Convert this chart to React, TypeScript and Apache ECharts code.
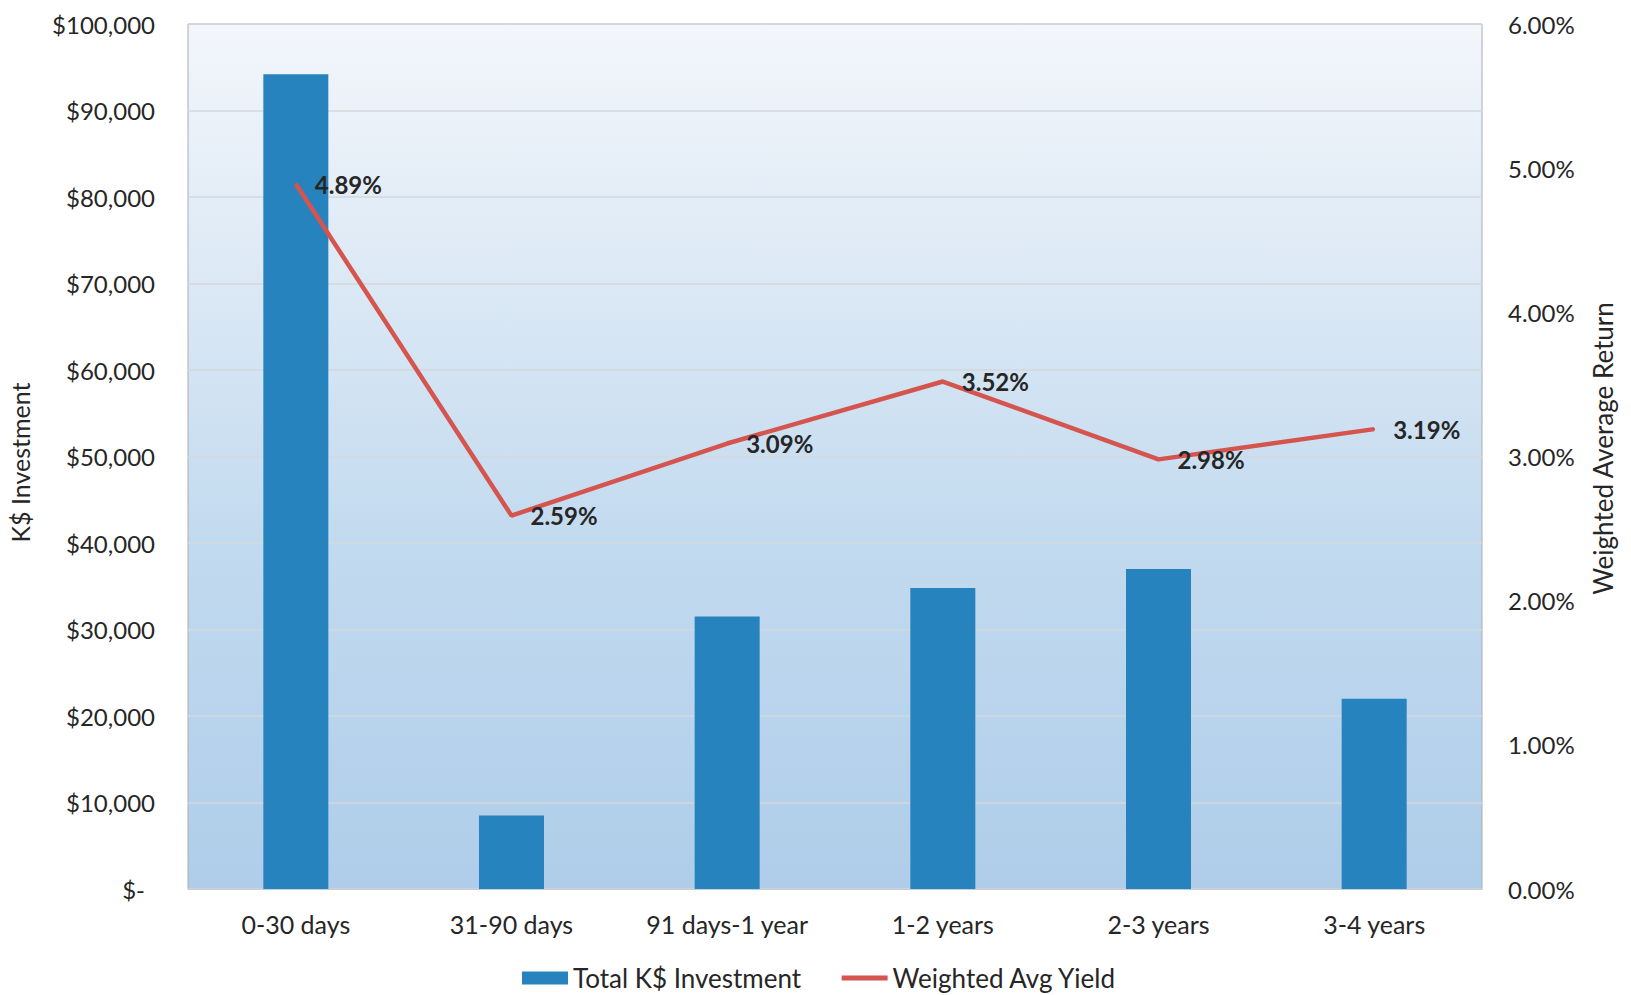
import React, { useEffect, useRef } from "react";
import * as echarts from "echarts";

// Maturity buckets and their values
const categories = ["0-30 days", "31-90 days", "91 days-1 year", "1-2 years", "2-3 years", "3-4 years"];
const investment = [94200, 8500, 31500, 34800, 37000, 22000]; // K$
const avgYield = [4.89, 2.59, 3.09, 3.52, 2.98, 3.19]; // percent

const FONT = "Lato, 'Open Sans', sans-serif";
const TEXT = "#262626";
const LINE_RED = "#d5544e";

function moneyLabel(v: number): string {
  if (v === 0) return "{z|$-}";
  return "$" + v.toLocaleString("en-US");
}

export default function App() {
  const ref = useRef<HTMLDivElement>(null);

  useEffect(() => {
    if (!ref.current) return;
    const chart = echarts.init(ref.current, undefined, { renderer: "svg" });
    chart.setOption({
      animation: false,
      backgroundColor: "#ffffff",
      textStyle: { fontFamily: FONT, color: TEXT },
      grid: {
        left: 188,
        right: 149,
        top: 24,
        height: 865,
        outerBoundsMode: "none",
        containLabel: false,
        show: true,
        borderColor: "#a9adb2",
        borderWidth: 1,
        backgroundColor: new echarts.graphic.LinearGradient(0, 0, 0, 1, [
          { offset: 0, color: "#f3f6fb" },
          { offset: 0.25, color: "#e0ebf6" },
          { offset: 0.6, color: "#c2daef" },
          { offset: 1, color: "#afcde9" },
        ]),
      },
      legend: {
        left: 517,
        top: 960,
        itemWidth: 46,
        itemHeight: 13,
        itemGap: 38,
        textStyle: { fontFamily: FONT, fontSize: 26, color: TEXT },
        data: [
          { name: "Total K$ Investment", icon: "rect" },
          {
            name: "Weighted Avg Yield",
            itemStyle: { opacity: 0 },
            lineStyle: { width: 5, color: LINE_RED },
          },
        ],
      },
      xAxis: {
        type: "category",
        data: categories,
        axisTick: { show: false },
        axisLine: { lineStyle: { color: "#c9ccd0" } },
        axisLabel: { fontFamily: FONT, fontSize: 25, color: TEXT, margin: 22, interval: 0 },
      },
      yAxis: [
        {
          type: "value",
          min: 0,
          max: 100000,
          interval: 10000,
          name: "K$ Investment",
          nameLocation: "middle",
          nameRotate: 90,
          nameGap: 156,
          nameTextStyle: { fontFamily: FONT, fontSize: 25, color: TEXT, padding: [0, 12, 0, 0] },
          axisLine: { show: false },
          axisTick: { show: false },
          axisLabel: {
            fontFamily: FONT,
            fontSize: 24,
            color: TEXT,
            margin: 33,
            formatter: moneyLabel,
            rich: { z: { fontFamily: FONT, fontSize: 24, color: TEXT, padding: [0, 10, 0, 0] } },
          },
          splitLine: { lineStyle: { color: "#d3d8dd", width: 1.5 } },
        },
        {
          type: "value",
          min: 0,
          max: 6,
          interval: 1,
          position: "right",
          name: "Weighted Average Return",
          nameLocation: "middle",
          nameRotate: 90,
          nameGap: 108,
          nameTextStyle: { fontFamily: FONT, fontSize: 26, color: TEXT, padding: [0, 0, 0, 16] },
          axisLine: { show: false },
          axisTick: { show: false },
          axisLabel: {
            fontFamily: FONT,
            fontSize: 24,
            color: TEXT,
            margin: 26,
            formatter: (v: number) => v.toFixed(2) + "%",
          },
          splitLine: { show: false },
        },
      ],
      series: [
        {
          name: "Total K$ Investment",
          type: "bar",
          yAxisIndex: 0,
          data: investment,
          barWidth: 65,
          itemStyle: { color: "#2683be" },
        },
        {
          name: "Weighted Avg Yield",
          type: "line",
          yAxisIndex: 1,
          data: avgYield,
          symbol: "circle",
          symbolSize: 2,
          showSymbol: true,
          lineStyle: { color: LINE_RED, width: 4.5 },
          itemStyle: { color: LINE_RED },
          label: {
            show: true,
            position: "right",
            distance: 18,
            fontFamily: FONT,
            fontSize: 24,
            fontWeight: "bold",
            color: TEXT,
            formatter: (p: any) => Number(p.value).toFixed(2) + "%",
          },
        },
      ],
    });
    return () => chart.dispose();
  }, []);

  return (
    <div
      ref={ref}
      style={{ position: "absolute", left: 0, top: 0, width: 1631, height: 995 }}
    />
  );
}
